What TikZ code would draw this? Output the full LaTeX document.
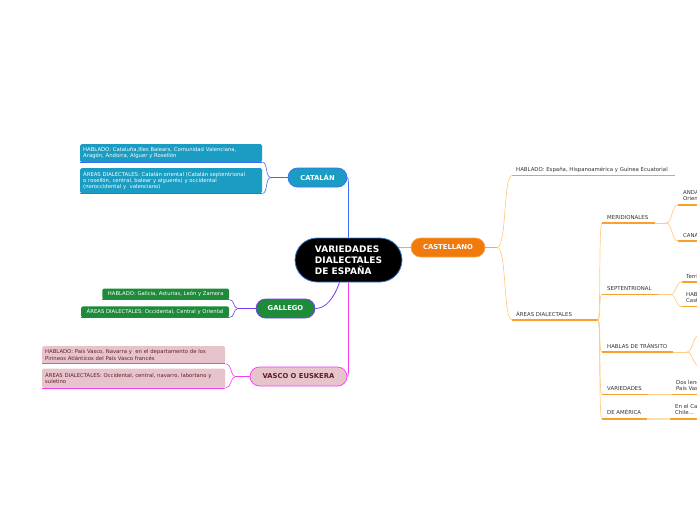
\documentclass[tikz,border=0pt]{standalone}
\usepackage{fontspec}
\setmainfont{DejaVu Sans}
\usetikzlibrary{backgrounds}
\definecolor{catfill}{HTML}{1B9CC2}
\definecolor{catline}{HTML}{3A6CF4}
\definecolor{galfill}{HTML}{1E8B3A}
\definecolor{galline}{HTML}{7A3CF5}
\definecolor{vasfill}{HTML}{E7C4CB}
\definecolor{vasline}{HTML}{F53DF0}
\definecolor{vastext}{HTML}{5A1E2C}
\definecolor{casfill}{HTML}{F07A0C}
\definecolor{casedge}{HTML}{F8AA4C}
\definecolor{ulcol}{HTML}{F7A12E}
\definecolor{llcol}{HTML}{FFCC88}
\definecolor{palecol}{HTML}{FFE0B0}
\definecolor{rootedge}{HTML}{3B7DD8}
\definecolor{txt}{HTML}{333333}
\begin{document}
\begin{tikzpicture}[x=1pt,y=-1pt,
  rootbox/.style={rectangle, rounded corners=22pt, fill=black, draw=rootedge, line width=0.8pt,
    minimum width=107pt, minimum height=44pt, text=white, align=left,
    font=\fontsize{9}{11}\selectfont\bfseries, inner sep=0pt},
  pill/.style={rectangle, rounded corners=9.5pt, minimum height=19pt, inner sep=0pt,
    line width=0.7pt, font=\fontsize{6.8}{8}\selectfont\bfseries},
  leafbox/.style={rectangle, rounded corners=1.5pt, inner xsep=3pt, inner ysep=0pt,
    align=left, font=\fontsize{5.3}{6.1}\selectfont},
  ctext/.style={anchor=base west, inner sep=0pt, text=txt, align=left,
    font=\fontsize{5.4}{6.2}\selectfont},
  ctext2/.style={anchor=south west, inner sep=0pt, text depth=0pt, text=txt, align=left,
    font=\fontsize{5.4}{6.2}\selectfont},
  ul/.style={draw=ulcol, line width=1.2pt},
  lc/.style={draw=llcol, line width=0.7pt},
  catc/.style={draw=catline, line width=0.6pt},
  galc/.style={draw=galline, line width=0.6pt},
  vasc/.style={draw=vasline, line width=0.6pt}
]
\useasboundingbox (0,0) rectangle (697,520);

% main nodes
\node[rootbox] (root) at (348.5,260) {VARIEDADES\\DIALECTALES\\DE ESPAÑA};
\node[pill, fill=catfill, draw=catline, text=white, minimum width=59pt] (cat) at (317.5,177.5) {CATALÁN};
\node[pill, fill=casfill, draw=casedge, text=white, minimum width=74pt] (cas) at (448,247.5) {CASTELLANO};
\node[pill, fill=galfill, draw=galline, text=white, minimum width=59pt] (gal) at (285.5,308.5) {GALLEGO};
\node[pill, fill=vasfill, draw=vasline, text=vastext, minimum width=97pt] (vas) at (298.5,376.5) {VASCO O EUSKERA};

% Catalan leaves
\node[leafbox, fill=catfill, text=white, anchor=north west, text width=176pt, minimum height=18pt] (c1) at (80,144)
  {\mbox{HABLADO: Cataluña,Illes Balears, Comunidad Valenciana,}\\\mbox{Aragón, Andorra, Alguer y Rosellón}};
\node[leafbox, fill=catfill, text=white, anchor=north west, text width=176pt, minimum height=25pt] (c2) at (80,168)
  {\mbox{ÁREAS DIALECTALES: Catalán oriental (Catalán septentrional}\\\mbox{o rosellón, central, balear y alguerés) y occidental}\\\mbox{(noroccidental y\ \ valenciano)}};
\draw[catc, line width=0.9pt] (c1.south west) -- (c1.south east);
\draw[catc, line width=0.9pt] (c2.south west) -- (c2.south east);

% Gallego leaves
\node[leafbox, fill=galfill, text=white, anchor=north east, inner xsep=5.5pt, minimum height=11pt] (g1) at (229.3,288.3)
  {HABLADO: Galicia, Asturias, León y Zamora};
\node[leafbox, fill=galfill, text=white, anchor=north east, inner xsep=5.5pt, minimum height=11pt] (g2) at (229.3,306.2)
  {ÁREAS DIALECTALES: Occidental, Central y Oriental};
\draw[galc, line width=0.9pt] (g1.south west) -- (g1.south east);
\draw[galc, line width=0.9pt] (g2.south west) -- (g2.south east);

% Vasco leaves
\node[leafbox, fill=vasfill, text=vastext, anchor=north west, text width=177pt, minimum height=17.5pt] (v1) at (42,346)
  {\mbox{HABLADO: País Vasco, Navarra y\ \ en el departamento de los}\\\mbox{Pirineos Atlánticos del País Vasco francés}};
\node[leafbox, fill=vasfill, text=vastext, anchor=north west, text width=177pt, minimum height=19.5pt] (v2) at (42,368.3)
  {\mbox{ÁREAS DIALECTALES: Occidental, central, navarro, labortano y}\\\mbox{suletino}};
\draw[vasc, line width=0.9pt] (v1.south west) -- (v1.south east);
\draw[vasc, line width=0.9pt] (v2.south west) -- (v2.south east);

% connectors behind nodes
\begin{scope}[on background layer]
  \draw[catc, line width=0.8pt] (root.north) -- (348.5,188)
    .. controls (348.5,180) and (348,177.5) .. (cat.east);
  \draw[draw=casedge, line width=0.8pt] (root.center |- cas.west) -- (cas.west);
  \draw[galc, line width=0.8pt] ([xshift=-9pt]root.south)
    .. controls (334,298) and (326,308.5) .. (gal.east);
  \draw[vasc, line width=0.8pt] (root.south) -- (348.5,368)
    .. controls (348.5,375) and (348,376.5) .. (vas.east);
  % catalan fork
  \draw[catc] (cat.west) -- (271,177.5) coordinate (catF);
  \draw[catc] (catF) .. controls (265,177.5) and (268,161.8) .. (c1.south east);
  \draw[catc] (catF) .. controls (265,177.5) and (268,193.3) .. (c2.south east);
  % gallego fork
  \draw[galc] (gal.west) -- (238,308.5) coordinate (galF);
  \draw[galc] (galF) .. controls (233,308.5) and (235,299.5) .. (g1.south east);
  \draw[galc] (galF) .. controls (233,308.5) and (235,317.5) .. (g2.south east);
  % vasco fork
  \draw[vasc] (vas.west) -- (236,376.5) coordinate (vasF);
  \draw[vasc] (vasF) .. controls (230,376.5) and (232,363.3) .. (v1.south east);
  \draw[vasc] (vasF) .. controls (230,376.5) and (232,387.7) .. (v2.south east);
\end{scope}

% Castellano branch (clipped at the right edge)
\begin{scope}
\clip (0,0) rectangle (697,520);
\draw[draw=casedge, line width=0.8pt] (cas.east) -- (497,247.5) coordinate (cf);
\node[ctext] (hab) at (516,171.5) {HABLADO: España, Hispanoamérica y Guinea Ecuatorial};
\node[ctext] (are) at (516,316) {ÁREAS DIALECTALES};
\draw[ul] (512,175.5) coordinate (habL) -- (675,175.5);
\draw[ul] (512,320) coordinate (areL) -- (598,320) coordinate (af);
\draw[lc] (cf) .. controls (507,247.5) and (503,175.5) .. (habL);
\draw[lc] (cf) .. controls (507,247.5) and (503,320) .. (areL);

\node[ctext] (mer) at (607,219) {MERIDIONALES};
\node[ctext] (sep) at (607,290.5) {SEPTENTRIONAL};
\node[ctext] (tra) at (607,348) {HABLAS DE TRÁNSITO};
\node[ctext] (var) at (607,390) {VARIEDADES};
\node[ctext] (ame) at (607,414.5) {DE AMÉRICA};

\draw[ul] (602,223) coordinate (merL) -- (655,223) coordinate (merR);
\draw[ul] (602,294.5) coordinate (sepL) -- (658,294.5) coordinate (sepR);
\draw[ul] (602,352) coordinate (traL) -- (673,352) coordinate (traR);
\draw[ul] (602,394.5) coordinate (varL) -- (648,394.5) coordinate (varR);
\draw[ul] (602,419) coordinate (ameL) -- (647,419) coordinate (ameR);

\foreach \p in {merL,sepL,traL,varL,ameL}
  \draw[lc] (af) .. controls (601,320) and (598.5,0 |- \p) .. (\p);

% meridionales
\draw[lc] (merR) -- (666,223) coordinate (merF);
\node[ctext2] (and) at (683,201) {ANDALUZ: Occidental y\\Oriental};
\node[ctext] (can) at (683,237) {CANARIO};
\draw[ul] (678,205) coordinate (andL) -- (705,205);
\draw[ul] (678,241) coordinate (canL) -- (705,241);
\draw[lc] (merF) .. controls (673,223) and (671,205) .. (andL);
\draw[lc] (merF) .. controls (673,223) and (671,241) .. (canL);

% septentrional
\draw[lc] (sepR) -- (670,294.5) coordinate (sepF);
\node[ctext] (ter) at (686,278) {Territorios del norte};
\node[ctext2] (hcs) at (686,302.5) {HABLAS DE\\Castilla la Vieja};
\draw[ul] (682,282) coordinate (terL) -- (705,282);
\draw[ul] (682,306.7) coordinate (hcsL) -- (705,306.7);
\draw[lc] (sepF) .. controls (677,294.5) and (675,282) .. (terL);
\draw[lc] (sepF) .. controls (677,294.5) and (675,306.7) .. (hcsL);

% hablas de transito
\draw[lc] (traR) -- (687,352) coordinate (traF);
\coordinate (traU) at (702,333);
\coordinate (traD) at (702,368);
\draw[lc] (traF) .. controls (693,352) and (692,335) .. (traU);
\draw[lc] (traF) .. controls (693,352) and (692,366) .. (traD);

% variedades
\draw[lc] (varR) -- (672,394.5) coordinate (dosL);
\node[ctext2] (dos) at (676,390.5) {Dos lenguas\\País Vasco};
\draw[ul] (dosL) -- (705,394.5);

% de america
\draw[draw=palecol, line width=1.3pt] (ameR) -- (670,419) coordinate (eneL);
\node[ctext2] (ene) at (675,414.5) {En el Caribe\\Chile...};
\draw[ul] (eneL) -- (705,419);
\end{scope}
\end{tikzpicture}
\end{document}
